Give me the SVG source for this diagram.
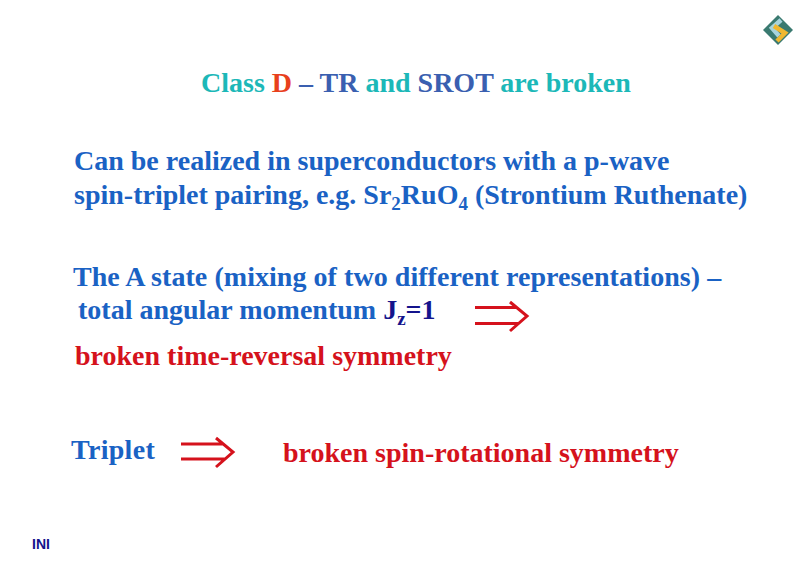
<svg xmlns="http://www.w3.org/2000/svg" width="810" height="570" viewBox="0 0 810 570">
<style>
text{font-family:"Liberation Serif","Times New Roman",serif;font-weight:bold;font-size:28px;white-space:pre}
.t{fill:#1cb8b8}.r{fill:#e8401c}.b{fill:#3a5fb0}
.blue{fill:#1a62c4}.navy{fill:#14148c}.red{fill:#d5121c}
.sub{font-size:19px}
.arr{fill:none;stroke:#d5121c;stroke-width:3}
</style>
<rect width="810" height="570" fill="#ffffff"/>
<g id="logo">
<polygon points="778,15 793,30 778,45 763,30" fill="#3a7a70"/>
<path d="M781,20 L772,28 L779,36" fill="none" stroke="#a8d4dc" stroke-width="4.5"/>
<path d="M774,26 L785,33 L777,41" fill="none" stroke="#f0b830" stroke-width="4.5"/>
</g>
<g id="title">
<text x="201" y="92"><tspan class="t">Class </tspan><tspan class="r">D</tspan><tspan class="b"> – TR </tspan><tspan class="t">and </tspan><tspan class="b">SROT </tspan><tspan class="t">are broken</tspan></text>
</g>
<g id="para1">
<text x="74" y="170" class="blue">Can be realized in superconductors with a p-wave</text>
<text x="74" y="204" class="blue">spin-triplet pairing, e.g. Sr<tspan class="sub" dy="6">2</tspan><tspan dy="-6">RuO</tspan><tspan dy="6" class="sub">4</tspan><tspan dy="-6"> (Strontium Ruthenate)</tspan></text>
</g>
<g id="para2">
<text x="73" y="286" class="blue" letter-spacing="0.05">The A state (mixing of two different representations) –</text>
<text x="78" y="319" class="blue">total angular momentum <tspan class="navy">J</tspan><tspan class="navy sub" dy="6">z</tspan><tspan class="navy" dy="-6">=1</tspan></text>
</g>
<g id="para3"><text x="75" y="365" class="red">broken time-reversal symmetry</text></g>
<g id="triplet"><text x="71" y="459" class="blue" letter-spacing="0.3">Triplet</text></g>
<g id="spin"><text x="283" y="462" class="red">broken spin-rotational symmetry</text></g>
<g id="footer"><text x="32" y="549" style="font-family:'Liberation Sans',sans-serif;font-size:14px" class="navy">INI</text></g>
<g id="connectors">
<path class="arr" d="M475,307.500H517M475,323.500H518M510,302L527,316L510,331"/>
<path class="arr" d="M181,444H223M181,459H225M216,438L233,452L216,467"/>
</g>
</svg>
